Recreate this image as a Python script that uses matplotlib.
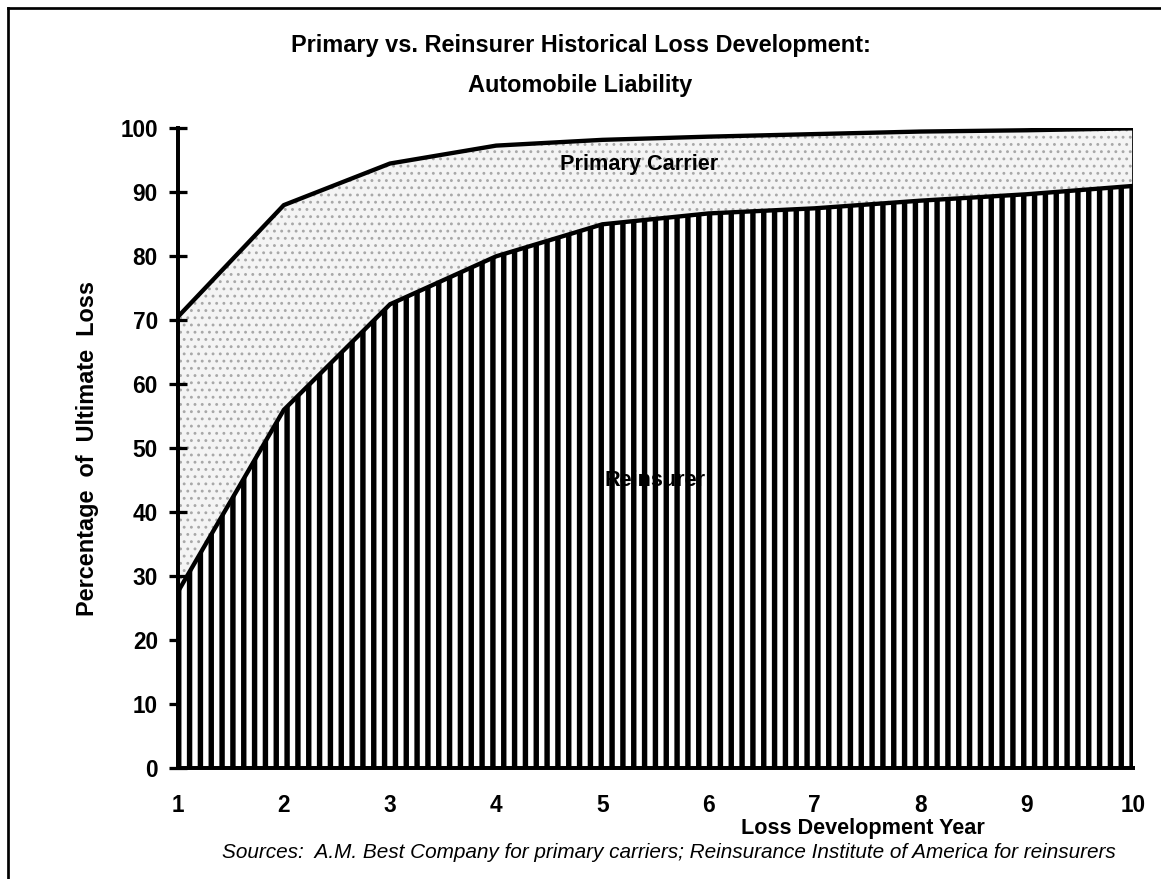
import matplotlib
matplotlib.use("Agg")
import matplotlib.pyplot as plt
from matplotlib.lines import Line2D

plt.rcParams['font.family'] = ['Liberation Sans', 'DejaVu Sans']

# Values (percentage of ultimate loss)
years = [1, 2, 3, 4, 5, 6, 7, 8, 9, 10]
primary = [70.5, 88, 94.5, 97.3, 98.2, 98.7, 99.1, 99.5, 99.7, 100]
reinsurer = [27.5, 56, 72.5, 80, 85, 86.7, 87.5, 88.7, 89.7, 91]
yticks = [0, 10, 20, 30, 40, 50, 60, 70, 80, 90, 100]

dpi = 130
fig = plt.figure(figsize=(1161 / dpi, 879 / dpi), dpi=dpi)
ax = fig.add_axes([0.153, 0.126, 0.823, 0.728])

# primary carrier band: light stipple (fine dots)
ax.fill_between(years, reinsurer, primary, facecolor='#f4f4f4', linewidth=0, zorder=1)
with plt.rc_context({'hatch.linewidth': 0.8}):
    ax.fill_between(years, reinsurer, primary, facecolor='none', edgecolor='#a8a8a8',
                    hatch='...', linewidth=0, zorder=1)
# reinsurer area: vertical hatch
with plt.rc_context({'hatch.linewidth': 3.0}):
    ax.fill_between(years, 0, reinsurer, facecolor='white', edgecolor='black',
                    hatch='||', linewidth=0, zorder=2)

ax.plot(years, primary, color='black', lw=2.4, zorder=3)
ax.plot(years, reinsurer, color='black', lw=2.4, zorder=3)
ax.plot([years[-1], years[-1]], [0, primary[-1]], color='black', lw=1.5, zorder=3)

ax.set_xlim(years[0], years[-1])
ax.set_ylim(0, 100)
ax.set_xticks(years)
ax.set_yticks(yticks)
ax.tick_params(axis='x', length=0, pad=14, labelsize=12.5)
ax.tick_params(axis='y', direction='inout', length=10, width=1.8, pad=6, labelsize=12.5)
for lab in ax.get_xticklabels() + ax.get_yticklabels():
    lab.set_fontweight('bold')

for s in ['top', 'right']:
    ax.spines[s].set_visible(False)
ax.spines['left'].set_linewidth(2.2)
ax.spines['bottom'].set_linewidth(2.2)
ax.spines['left'].set_zorder(4)
ax.spines['bottom'].set_zorder(4)

ax.set_ylabel('Percentage  of  Ultimate  Loss', fontsize=13, fontweight='bold', labelpad=12)

ax.text(5.35, 94.3, 'Primary Carrier', ha='center', va='center', fontsize=12,
        fontweight='bold', zorder=5)
ax.text(5.5, 45, 'Reinsurer', ha='center', va='center', fontsize=12,
        fontweight='bold', zorder=5)

fig.text(0.5, 0.948, 'Primary vs. Reinsurer Historical Loss Development:',
         ha='center', va='center', fontsize=13, fontweight='bold')
fig.text(0.5, 0.903, 'Automobile Liability', ha='center', va='center',
         fontsize=13, fontweight='bold')
fig.text(0.743, 0.058, 'Loss Development Year', ha='center', va='center',
         fontsize=12, fontweight='bold')
fig.text(0.576, 0.030,
         'Sources:  A.M. Best Company for primary carriers; Reinsurance Institute of America for reinsurers',
         ha='center', va='center', fontsize=11.5, fontstyle='italic')

# scanned page frame (left and top edges)
fig.add_artist(Line2D([0.007, 0.007], [0.0, 0.991], color='black', lw=1.5,
                      transform=fig.transFigure))
fig.add_artist(Line2D([0.007, 1.0], [0.991, 0.991], color='black', lw=1.5,
                      transform=fig.transFigure))

fig.savefig('out.png', dpi=dpi)
